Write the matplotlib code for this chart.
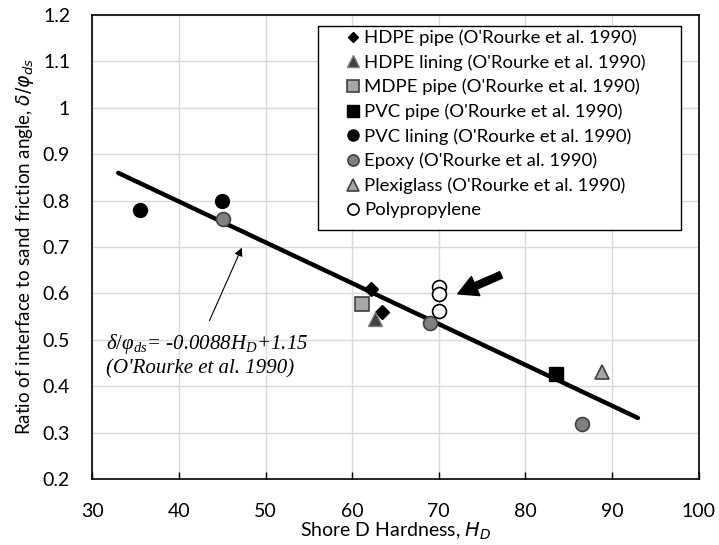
import matplotlib
matplotlib.use("Agg")
import matplotlib.pyplot as plt
from matplotlib.patches import Rectangle

plt.rcParams['font.family'] = ['Lato', 'DejaVu Sans']
plt.rcParams['mathtext.fontset'] = 'custom'
plt.rcParams['mathtext.it'] = 'Liberation Serif:italic'
plt.rcParams['mathtext.rm'] = 'Liberation Serif'

# data
hdpe_pipe_x = [62.2, 63.4]
hdpe_pipe_y = [0.61, 0.56]
hdpe_lining_x = [62.6]
hdpe_lining_y = [0.545]
mdpe_pipe_x = [61.1]
mdpe_pipe_y = [0.578]
pvc_pipe_x = [83.6]
pvc_pipe_y = [0.427]
pvc_lining_x = [35.5, 45.0]
pvc_lining_y = [0.78, 0.80]
epoxy_x = [45.1, 69.0, 86.5]
epoxy_y = [0.76, 0.537, 0.318]
plexi_x = [88.9]
plexi_y = [0.43]
pp_x = [70.0, 70.0, 70.0]
pp_y = [0.613, 0.598, 0.562]
fit_x = [33, 93]
fit_y = [0.8596, 0.3316]

x_ticks = [30, 40, 50, 60, 70, 80, 90, 100]
y_ticks = [0.2, 0.3, 0.4, 0.5, 0.6, 0.7, 0.8, 0.9, 1.0, 1.1, 1.2]
y_ticklabels = ['0.2', '0.3', '0.4', '0.5', '0.6', '0.7', '0.8', '0.9', '1', '1.1', '1.2']

fig = plt.figure(figsize=(7.19, 5.45), dpi=100)
ax = fig.add_axes([0.1284, 0.1211, 0.8431, 0.8514])

ax.plot(fit_x, fit_y, color='black', lw=3.2, solid_capstyle='round', zorder=2)

ms = 10
ax.plot(hdpe_pipe_x, hdpe_pipe_y, 'D', ms=7, mfc='black', mec='black', ls='none', zorder=3,
        label="HDPE pipe (O'Rourke et al. 1990)")
ax.plot(hdpe_lining_x, hdpe_lining_y, '^', ms=ms, mfc='#404040', mec='#7f7f7f', ls='none', zorder=3,
        label="HDPE lining (O'Rourke et al. 1990)")
ax.plot(mdpe_pipe_x, mdpe_pipe_y, 's', ms=ms, mfc='#a6a6a6', mec='#404040', mew=1.2, ls='none', zorder=3,
        label="MDPE pipe (O'Rourke et al. 1990)")
ax.plot(pvc_pipe_x, pvc_pipe_y, 's', ms=ms, mfc='black', mec='black', ls='none', zorder=3,
        label="PVC pipe (O'Rourke et al. 1990)")
ax.plot(pvc_lining_x, pvc_lining_y, 'o', ms=ms, mfc='black', mec='black', ls='none', zorder=3,
        label="PVC lining (O'Rourke et al. 1990)")
ax.plot(epoxy_x, epoxy_y, 'o', ms=ms, mfc='#808080', mec='#404040', mew=1.2, ls='none', zorder=3,
        label="Epoxy (O'Rourke et al. 1990)")
ax.plot(plexi_x, plexi_y, '^', ms=ms, mfc='#a6a6a6', mec='#404040', mew=1.2, ls='none', zorder=3,
        label="Plexiglass (O'Rourke et al. 1990)")
ax.plot(pp_x, pp_y, 'o', ms=ms, mfc='white', mec='black', mew=1.2, ls='none', zorder=3,
        label="Polypropylene")

ax.set_xlim(30, 100)
ax.set_ylim(0.2, 1.2)
ax.set_xticks(x_ticks)
ax.set_yticks(y_ticks)
ax.set_yticklabels(y_ticklabels)
ax.grid(True, color='#d9d9d9', lw=1)
ax.set_axisbelow(True)
ax.tick_params(axis='x', direction='in', length=5, width=1, labelsize=14, pad=17)
ax.tick_params(axis='y', length=0, labelsize=14, pad=16)
for s in ax.spines.values():
    s.set_color('black')
    s.set_linewidth(1.2)

ax.set_xlabel(r'Shore D Hardness, $H_D$', fontsize=14, labelpad=0.5, math_fontfamily='dejavusans')
ax.set_ylabel(r'Ratio of interface to sand friction angle, $\delta/\varphi_{ds}$',
              fontsize=13.5, labelpad=5, math_fontfamily='dejavusans')

# fitted-line annotation
ax.annotate('', xy=(47.4, 0.704), xytext=(43.4, 0.536),
            arrowprops=dict(arrowstyle='-|>', color='black', lw=0.8, mutation_scale=12))
ax.text(31.6, 0.49, r'$\delta/\varphi_{ds}$= -0.0088$H_D$+1.15', fontsize=15,
        family='Liberation Serif', style='italic', va='center', ha='left')
ax.text(31.6, 0.438, "(O'Rourke et al. 1990)", fontsize=15,
        family='Liberation Serif', style='italic', va='center', ha='left')

# thick arrow pointing to polypropylene
ax.annotate('', xy=(72.2, 0.599), xytext=(77.2, 0.64),
            arrowprops=dict(facecolor='black', edgecolor='black', width=5, headwidth=15,
                            headlength=14, shrink=0))

# legend box drawn separately so the padding matches
ax.add_patch(Rectangle((0.3723, 0.5366), 0.5988, 0.4397, transform=ax.transAxes,
                       facecolor='white', edgecolor='black', lw=1, zorder=4))
leg = ax.legend(loc='upper left', bbox_to_anchor=(0.4174, 0.9688), borderaxespad=0,
                fontsize=13.3, frameon=False, handlelength=0.8, borderpad=0,
                handletextpad=0.23, labelspacing=0.44, markerscale=0.8)
leg.set_zorder(5)

fig.savefig('out.png', dpi=100)
